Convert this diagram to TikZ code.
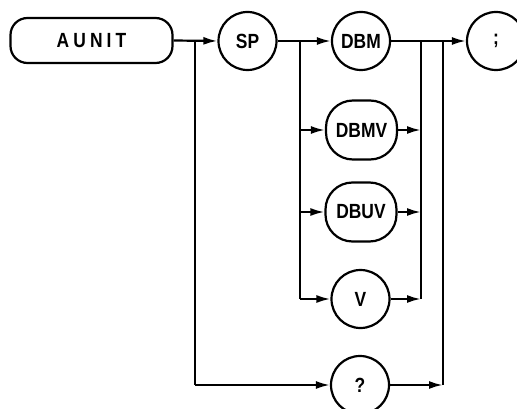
\documentclass[tikz,border=0pt]{standalone}
\usepackage{fontspec}
\setmainfont{Liberation Sans}[FakeStretch=0.85]
\usetikzlibrary{arrows.meta}
\begin{document}
\begin{tikzpicture}[x=1pt,y=-1pt,
  line width=2.2pt,
  every node/.style={font=\fontsize{20.5}{22}\selectfont\bfseries, inner sep=0pt},
  circ/.style={draw, circle, minimum size=58pt},
  oval/.style={draw, rectangle, rounded corners=27pt, minimum width=71pt, minimum height=59pt},
  arr/.style={-{Latex[length=14pt,width=8pt]}},
]
\useasboundingbox (0,0) rectangle (517,409);
\clip (0,0) rectangle (517,409);
\node[draw, rectangle, rounded corners=17pt, minimum width=162pt, minimum height=45pt] (aunit) at (91.5,40.5) {\addfontfeatures{LetterSpace=20}AUNIT};
\node[circ] (sp) at (247.5,41) {SP};
\node[circ] (dbm) at (361,41) {DBM};
\node[oval] (dbmv) at (361.5,130) {DBMV};
\node[oval] (dbuv) at (361,212) {DBUV};
\node[circ] (v) at (360.5,299) {V};
\node[circ] (q) at (360,385) {?};
\node[circ] (semi) at (496,41) {;};

\coordinate (b1) at (195,41);
\coordinate (b1d) at (195,385);
\coordinate (b2) at (300,41);
\coordinate (b2a) at (300,130);
\coordinate (b2b) at (300,212);
\coordinate (b2d) at (300,299);
\coordinate (m1) at (421,41);
\coordinate (m1a) at (421,130);
\coordinate (m1b) at (421,212);
\coordinate (m1d) at (421,299);
\coordinate (m2) at (443,41);
\coordinate (m2d) at (443,385);

\draw[arr] (aunit.east) -- (sp.west);
\draw[arr] (sp.east) -- (dbm.west);
\draw[arr] (dbm.east) -- (semi.west);
\draw (b1) -- (b1d);
\draw[arr] (b1d) -- (q.west);
\draw (b2) -- (b2d);
\draw[arr] (b2a) -- (dbmv.west);
\draw[arr] (b2b) -- (dbuv.west);
\draw[arr] (b2d) -- (v.west);
\draw[arr] (dbmv.east) -- (m1a);
\draw[arr] (dbuv.east) -- (m1b);
\draw[arr] (v.east) -- (m1d);
\draw (m1d) -- (m1);
\draw[arr] (q.east) -- (m2d);
\draw (m2d) -- (m2);
\end{tikzpicture}
\end{document}
